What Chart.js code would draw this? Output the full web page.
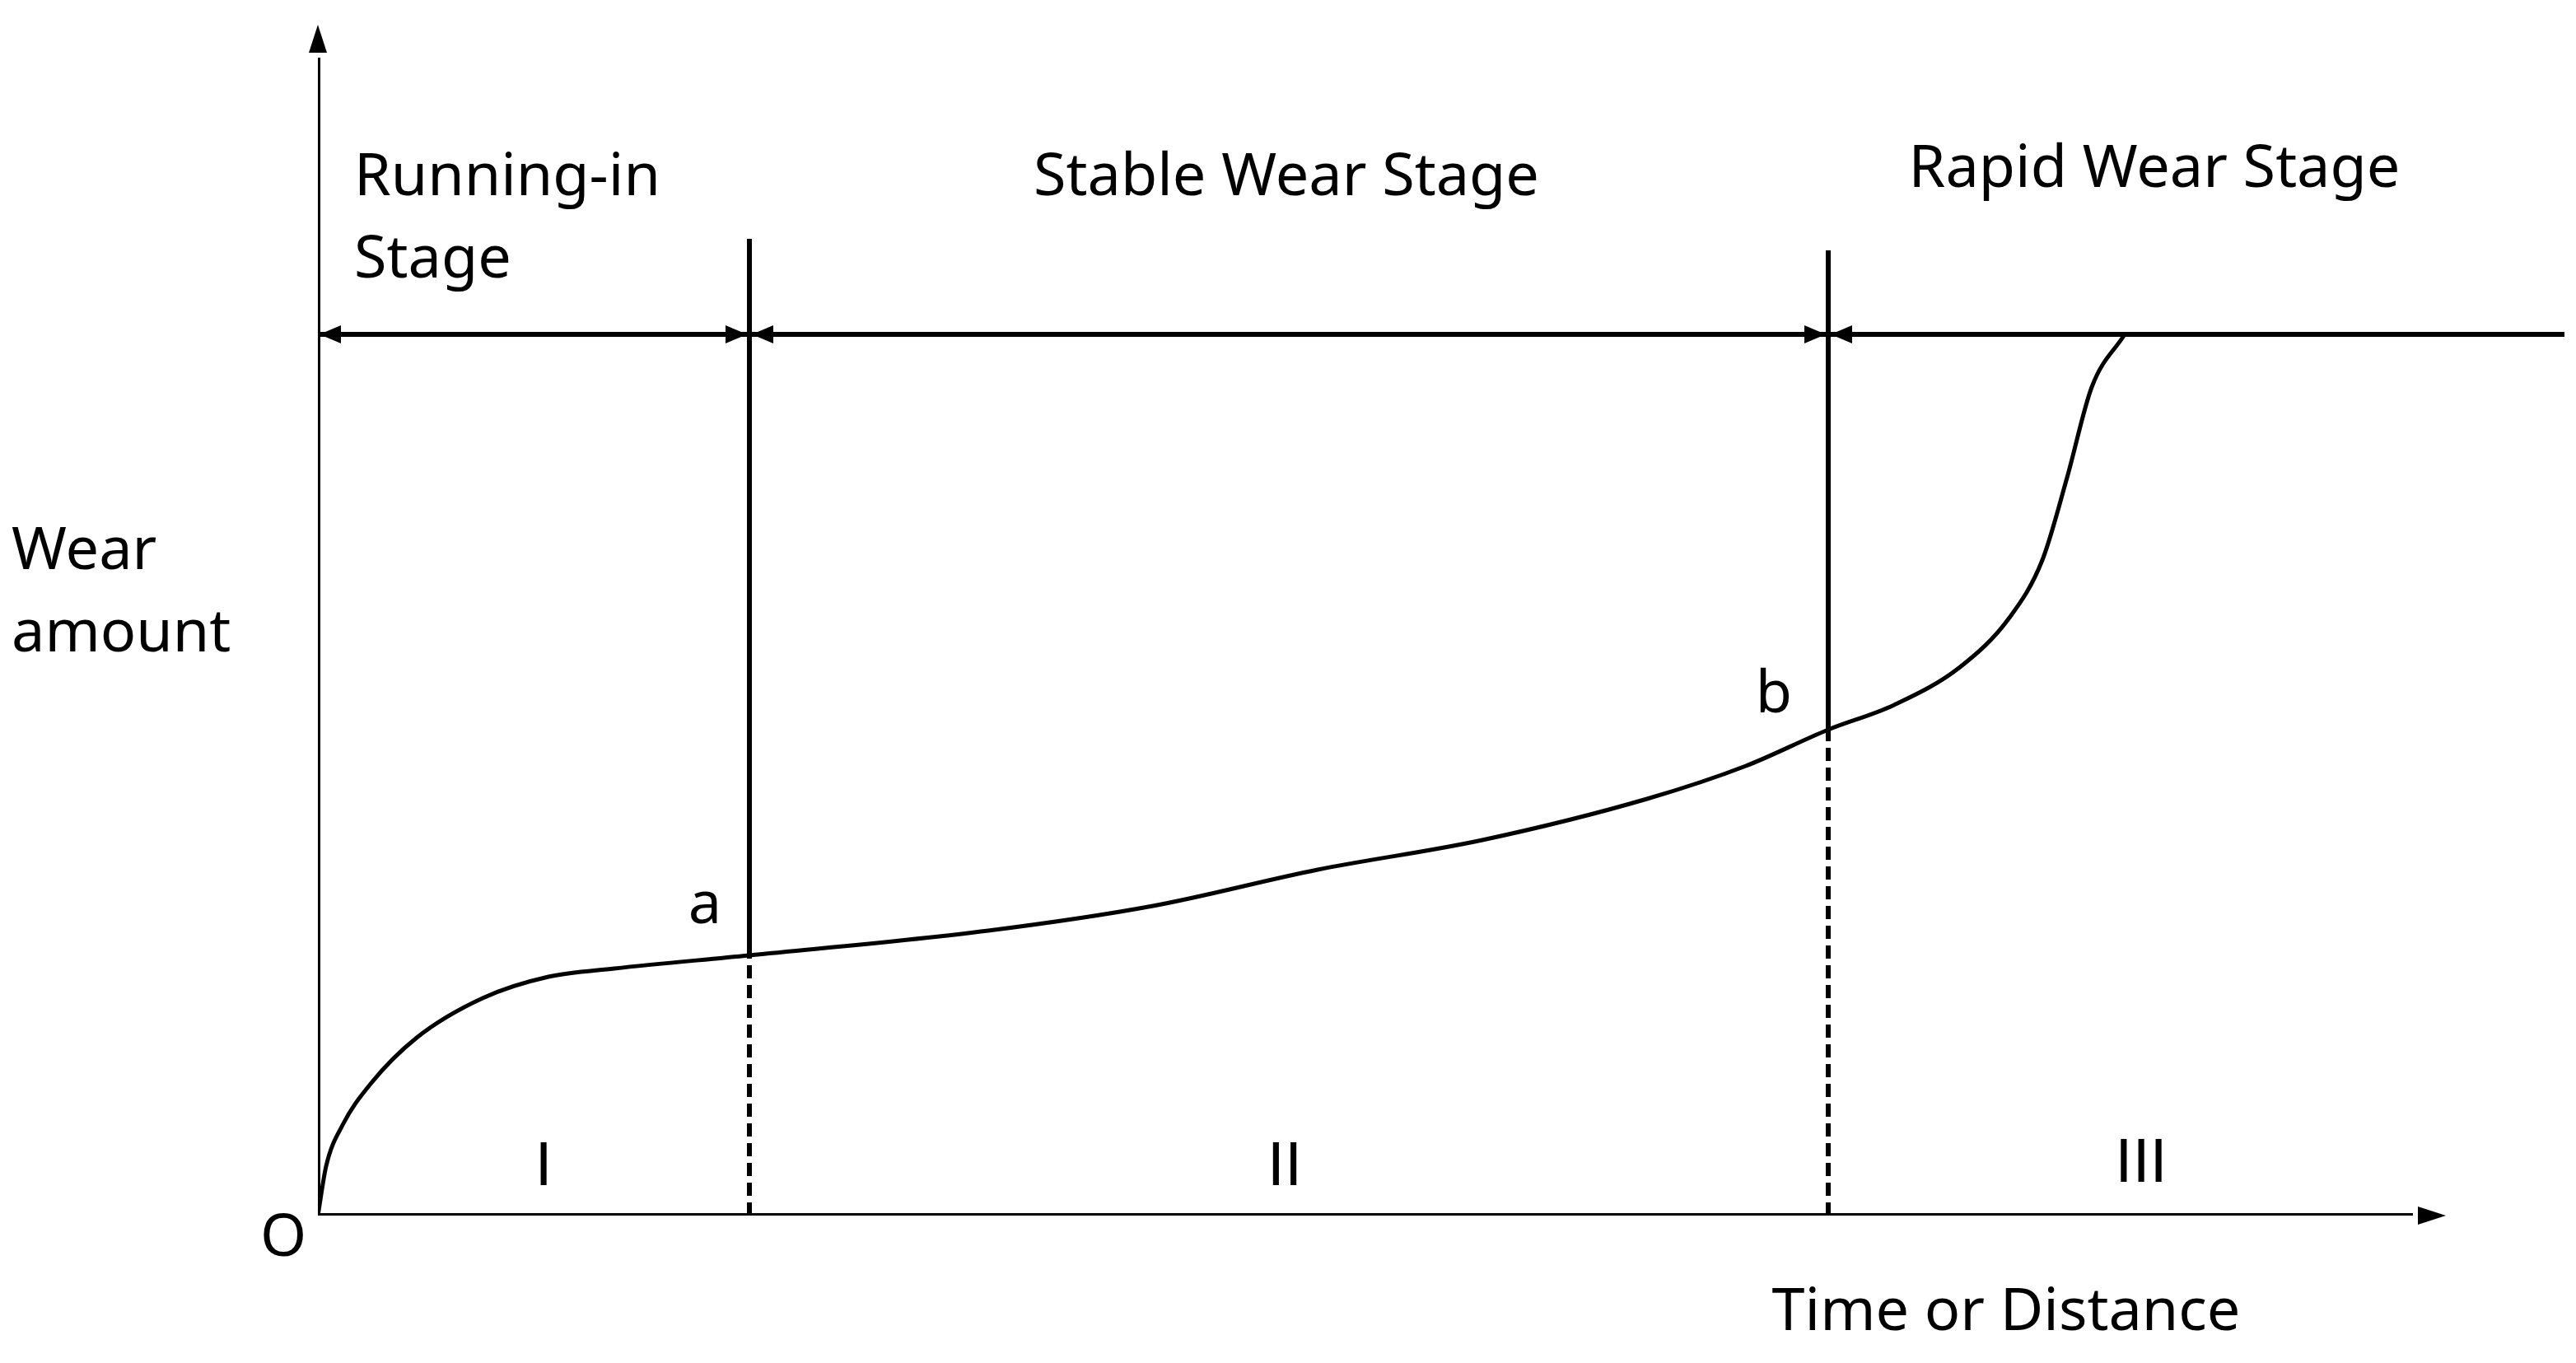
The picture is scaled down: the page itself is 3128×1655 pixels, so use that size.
<!DOCTYPE html>
<html>
<head>
<meta charset="utf-8">
<script src="https://cdn.jsdelivr.net/npm/chart.js@4.4.0/dist/chart.umd.min.js"></script>
<style>
html, body { margin: 0; padding: 0; background: #fff; }
#wrap { width: 3128px; height: 1655px; }
</style>
</head>
<body>
<div id="wrap"><canvas id="wearChart"></canvas></div>
<script>
// wear curve (x: time/distance, y: wear amount, arbitrary units)
const curveX = [0, 5, 15, 32, 60, 100, 140, 180, 262, 407, 507, 607, 707, 807, 867, 917, 957, 997, 1027, 1047, 1062, 1077, 1097];
const curveY = [0, 30, 55, 80, 108, 132, 145, 150, 158, 173, 188, 210, 228, 253, 273, 295, 310, 333, 363, 398, 448, 503, 535];

// stage boundaries
const boundaryX = [262, 917];
const boundaryTop = [593, 586];
const boundaryCurveY = [158, 295];
const stageLineY = 535;
const stageLineEnd = 1364;
const axisXEnd = 1292;
const axisYEnd = 723;

const stageLabels = ['Running-in', 'Stage', 'Stable Wear Stage', 'Rapid Wear Stage'];
const romanLabels = ['I', 'II', 'III'];

const ink = '#000';
const font = '"Noto Sans", "DejaVu Sans", sans-serif';

function seg(x1, y1, x2, y2, dash) {
    return {
        data: [{ x: x1, y: y1 }, { x: x2, y: y2 }],
        borderColor: ink,
        borderWidth: 6,
        borderDash: dash || [],
        pointRadius: 0,
        tension: 0
    };
}

const datasets = [
    {
        data: curveX.map((x, i) => ({ x: x, y: curveY[i] })),
        borderColor: ink,
        borderWidth: 5,
        pointRadius: 0,
        cubicInterpolationMode: 'monotone'
    },
    seg(0, 0, axisXEnd - 20, 0),
    seg(0, 0, 0, axisYEnd - 20),
    seg(0, stageLineY, stageLineEnd, stageLineY)
];

boundaryX.forEach((bx, i) => {
    datasets.push(seg(bx, boundaryCurveY[i], bx, boundaryTop[i]));
    datasets.push(seg(bx, 0, bx, boundaryCurveY[i], [16, 8]));
});

function arrow(ctx, x, y, dir, len, half) {
    ctx.save();
    ctx.translate(x, y);
    ctx.rotate(dir);
    ctx.beginPath();
    ctx.moveTo(0, 0);
    ctx.lineTo(-len, -half);
    ctx.lineTo(-len, half);
    ctx.closePath();
    ctx.fill();
    ctx.restore();
}

const decorations = {
    id: 'decorations',
    afterDatasetsDraw(chart) {
        const ctx = chart.ctx;
        const xs = chart.scales.x;
        const ys = chart.scales.y;
        const px = v => xs.getPixelForValue(v);
        const py = v => ys.getPixelForValue(v);
        ctx.fillStyle = ink;

        // axis arrows
        arrow(ctx, px(axisXEnd), py(0), 0, 34, 11);
        arrow(ctx, px(0), py(axisYEnd), -Math.PI / 2, 34, 11);

        // stage line arrows
        const hy = py(stageLineY);
        arrow(ctx, px(0) + 2, hy, Math.PI, 26, 11);
        boundaryX.forEach(bx => {
            arrow(ctx, px(bx) - 3, hy, 0, 26, 11);
            arrow(ctx, px(bx) + 3, hy, Math.PI, 26, 11);
        });

        ctx.textBaseline = 'middle';
        ctx.font = '72px ' + font;
        ctx.textAlign = 'left';
        ctx.fillText(stageLabels[0], 430, 216);
        ctx.fillText(stageLabels[1], 430, 316);
        ctx.fillText('Wear', 14, 670);
        ctx.fillText('amount', 14, 770);
        ctx.textAlign = 'center';
        ctx.fillText(stageLabels[2], 1562, 216);
        ctx.fillText(stageLabels[3], 2616, 206);
        ctx.fillText('Time or Distance', 2436, 1594);
        ctx.fillText('a', 856, 1100);
        ctx.fillText('b', 2154, 844);
        ctx.fillText('O', 344, 1504);
        ctx.font = '72px "DejaVu Sans", sans-serif';
        ctx.fillText(romanLabels[0], 660, 1420);
        ctx.fillText(romanLabels[1], 1560, 1420);
        ctx.fillText(romanLabels[2], 2600, 1416);
    }
};

new Chart(document.getElementById('wearChart'), {
    type: 'line',
    data: { datasets: datasets },
    options: {
        responsive: true,
        maintainAspectRatio: false,
        animation: false,
        layout: { padding: { left: 386, right: 14, top: 30, bottom: 179 } },
        plugins: { legend: { display: false }, tooltip: { enabled: false } },
        scales: {
            x: { type: 'linear', min: 0, max: stageLineEnd, display: false },
            y: { type: 'linear', min: 0, max: axisYEnd, display: false }
        }
    },
    plugins: [decorations]
});
</script>
</body>
</html>
